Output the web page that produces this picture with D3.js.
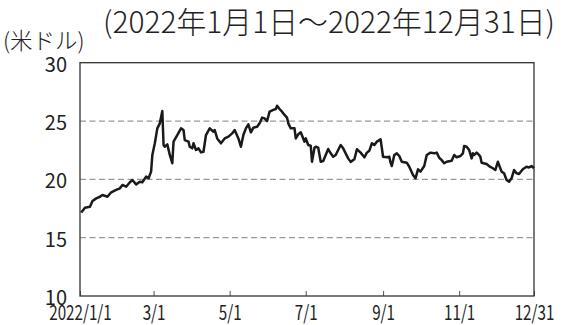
<!DOCTYPE html>
<html>
<head>
<meta charset="utf-8">
<script src="https://cdn.jsdelivr.net/npm/d3@7"></script>
<style>
  html, body { margin: 0; padding: 0; background: #fff; }
  svg { display: block; }
  text { font-family: "Noto Sans CJK JP", "Noto Sans", sans-serif; fill: #222; }
</style>
</head>
<body>
<svg id="chart" width="562" height="325"></svg>
<script>
const title = "(2022年1月1日～2022年12月31日)";
const unitLabel = "(米ドル)";
const yTicks = [10, 15, 20, 25, 30];
const gridValues = [15, 20, 25];
const xTickDates = ["2022-01-01","2022-03-01","2022-05-01","2022-07-01","2022-09-01","2022-11-01","2022-12-31"];
const xTickLabels = ["2022/1/1","3/1","5/1","7/1","9/1","11/1","12/31"];

const dates = [
"2022-01-02","2022-01-05","2022-01-09","2022-01-11","2022-01-14","2022-01-17","2022-01-19","2022-01-23","2022-01-26","2022-01-30",
"2022-02-02","2022-02-04","2022-02-07","2022-02-10","2022-02-12","2022-02-15","2022-02-18","2022-02-20","2022-02-23","2022-02-25",
"2022-02-27","2022-02-28","2022-03-02","2022-03-04","2022-03-06","2022-03-08","2022-03-09","2022-03-10","2022-03-12","2022-03-14",
"2022-03-16","2022-03-17","2022-03-20","2022-03-23","2022-03-25","2022-03-26","2022-03-29","2022-03-30","2022-04-01","2022-04-02",
"2022-04-04","2022-04-06","2022-04-08","2022-04-10","2022-04-12","2022-04-15","2022-04-18","2022-04-19","2022-04-21","2022-04-24",
"2022-04-27","2022-04-30","2022-05-03","2022-05-05","2022-05-08","2022-05-10","2022-05-12","2022-05-14","2022-05-16","2022-05-18",
"2022-05-20","2022-05-23","2022-05-25","2022-05-27","2022-05-29","2022-05-31","2022-06-02","2022-06-05","2022-06-07","2022-06-08",
"2022-06-10","2022-06-12","2022-06-14","2022-06-16","2022-06-17","2022-06-19","2022-06-22","2022-06-23","2022-06-25","2022-06-27",
"2022-06-30","2022-07-01","2022-07-03","2022-07-05","2022-07-06","2022-07-08","2022-07-09","2022-07-11","2022-07-13","2022-07-15",
"2022-07-17","2022-07-19","2022-07-21","2022-07-23","2022-07-25","2022-07-27","2022-07-29","2022-07-31","2022-08-02","2022-08-04",
"2022-08-06","2022-08-09","2022-08-11","2022-08-14","2022-08-17","2022-08-19","2022-08-21","2022-08-23","2022-08-25","2022-08-27",
"2022-08-30","2022-09-01","2022-09-04","2022-09-06","2022-09-07","2022-09-08","2022-09-10","2022-09-12","2022-09-14","2022-09-16",
"2022-09-20","2022-09-22","2022-09-25","2022-09-27","2022-09-29","2022-10-01","2022-10-04","2022-10-06","2022-10-09","2022-10-12",
"2022-10-14","2022-10-16","2022-10-18","2022-10-20","2022-10-22","2022-10-26","2022-10-28","2022-10-30","2022-11-02","2022-11-04",
"2022-11-05","2022-11-07","2022-11-09","2022-11-11","2022-11-12","2022-11-13","2022-11-15","2022-11-17","2022-11-18","2022-11-19",
"2022-11-23","2022-11-25","2022-11-28","2022-11-30","2022-12-02","2022-12-03","2022-12-05","2022-12-07","2022-12-09","2022-12-11",
"2022-12-13","2022-12-15","2022-12-17","2022-12-19","2022-12-22","2022-12-25","2022-12-27","2022-12-29","2022-12-31"
];
const prices = [
17.15,17.57,17.65,18.14,18.37,18.51,18.66,18.51,18.89,19.09,
19.23,19.52,19.37,19.75,19.94,19.57,19.80,19.75,20.23,20.09,
20.66,22.09,23.09,24.37,24.80,25.86,22.94,22.80,23.00,22.09,
21.38,23.23,23.80,24.37,24.23,23.37,23.23,22.80,22.66,23.09,
22.52,22.66,22.31,22.37,23.80,24.37,24.08,24.23,23.51,23.09,
23.51,23.66,23.94,24.23,23.51,22.80,23.80,24.37,24.72,24.03,
24.43,24.51,24.80,25.29,25.23,25.00,25.80,25.95,26.03,26.31,
26.03,25.80,25.52,25.29,24.80,24.37,24.37,23.51,23.86,24.03,
23.23,23.51,22.94,22.88,21.51,22.71,22.80,22.71,21.51,21.57,
22.09,22.60,22.23,21.94,22.09,22.52,22.94,22.66,22.23,21.80,
21.50,21.72,22.58,22.29,21.89,22.29,22.46,23.09,22.94,23.23,
23.43,21.94,21.89,21.94,21.43,21.14,22.09,22.23,22.00,21.51,
21.43,21.08,20.37,20.09,20.86,20.66,21.14,22.09,22.29,22.23,
22.29,21.85,21.65,21.38,21.51,21.60,22.09,21.89,22.00,22.23,
22.86,22.80,22.52,21.80,22.23,22.09,22.29,22.09,21.94,21.43,
21.32,21.14,20.95,20.80,21.51,21.23,20.66,20.52,19.94,19.80,
20.09,20.80,20.52,20.46,20.86,21.08,21.02,21.14,20.95
];

const parse = d3.timeParse("%Y-%m-%d");
const data = dates.map((d, i) => ({ date: parse(d), value: prices[i] }));

const svg = d3.select("#chart");
const plotLeft = 80, plotRight = 534, plotTop = 62.7, plotBottom = 296;

const x = d3.scaleTime()
  .domain([parse("2022-01-01"), parse("2022-12-31")])
  .range([plotLeft, plotRight]);
const y = d3.scaleLinear()
  .domain([10, 30])
  .range([plotBottom, plotTop]);

// grid lines
svg.append("g").selectAll("line")
  .data(gridValues)
  .join("line")
  .attr("x1", plotLeft).attr("x2", plotRight)
  .attr("y1", d => y(d)).attr("y2", d => y(d))
  .attr("stroke", "#9a9a9a")
  .attr("stroke-width", 1.2)
  .attr("stroke-dasharray", "6,3.5");

// x axis
const xAxis = svg.append("g")
  .attr("transform", `translate(0,${plotBottom})`)
  .call(d3.axisBottom(x)
    .tickValues(xTickDates.map(parse))
    .tickFormat((d, i) => xTickLabels[i])
    .tickSizeInner(-5)
    .tickSizeOuter(0));
xAxis.select(".domain").remove();
xAxis.selectAll(".tick line").attr("stroke", "#555").attr("stroke-width", 1);
xAxis.selectAll(".tick text")
  .attr("y", 24.5).attr("dy", 0)
  .attr("font-family", "'Liberation Sans', Arial, sans-serif")
  .attr("font-size", 20)
  .attr("fill", "#222")
  .attr("transform", "scale(0.76,1)");

// y axis
const yAxis = svg.append("g")
  .attr("transform", `translate(${plotLeft},0)`)
  .call(d3.axisLeft(y).tickValues(yTicks).tickSize(0).tickPadding(13));
yAxis.select(".domain").remove();
yAxis.selectAll(".tick text")
  .attr("font-size", 20)
  .attr("font-family", "'Noto Sans CJK JP', sans-serif")
  .attr("dy", "0.42em")
  .attr("fill", "#222");

// frame
svg.append("rect")
  .attr("x", plotLeft).attr("y", plotTop)
  .attr("width", plotRight - plotLeft).attr("height", plotBottom - plotTop)
  .attr("fill", "none")
  .attr("stroke", "#333")
  .attr("stroke-width", 1.3);

// line
const line = d3.line().x(d => x(d.date)).y(d => y(d.value));
svg.append("path")
  .datum(data)
  .attr("d", line)
  .attr("fill", "none")
  .attr("stroke", "#1a1a1a")
  .attr("stroke-width", 2.5)
  .attr("stroke-linejoin", "round");

// texts
svg.append("text")
  .attr("x", 103).attr("y", 32.5)
  .attr("font-size", 29.9)
  .attr("font-weight", 300)
  .text(title);
svg.append("text")
  .attr("x", 3).attr("y", 49)
  .attr("font-size", 22.5)
  .attr("font-weight", 300)
  .text(unitLabel);
</script>
</body>
</html>
